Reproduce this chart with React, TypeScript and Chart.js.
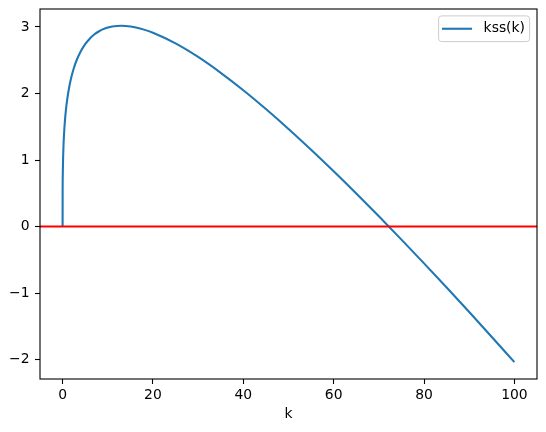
import React, { useEffect, useRef } from "react";
import { Chart, registerables } from "chart.js";

Chart.register(...registerables);

// k grid and kss(k) values
const kValues = [
  0, 0.01, 0.05, 0.1, 0.2, 0.3, 0.5, 0.75, 1, 1.5, 2, 2.5, 3, 4, 5, 6, 7, 8, 9, 10, 12, 13, 14,
  16, 18, 20, 25, 30, 35, 40, 45, 50, 55, 60, 65, 70, 75, 80, 85, 90, 95, 100,
];
const kssValues = [
  0, 0.501, 0.809, 0.992, 1.214, 1.364, 1.575, 1.76, 1.9, 2.109, 2.262, 2.383, 2.481, 2.631,
  2.741, 2.824, 2.886, 2.932, 2.967, 2.991, 3.015, 3.017, 3.014, 2.995, 2.96, 2.913, 2.753,
  2.549, 2.311, 2.049, 1.766, 1.467, 1.155, 0.831, 0.497, 0.154, -0.196, -0.553, -0.916,
  -1.285, -1.659, -2.038,
];
const xTicks = [0, 20, 40, 60, 80, 100];
const yTicks = [-2, -1, 0, 1, 2, 3];
const seriesLabel = "kss(k)";
const xLabel = "k";
const hlineY = 0;

const FONT = "'DejaVu Sans', sans-serif";

export default function App() {
  const ref = useRef<HTMLCanvasElement | null>(null);

  useEffect(() => {
    if (!ref.current) return;
    const overlay = {
      id: "overlay",
      afterDatasetsDraw(chart: any) {
        const { ctx, chartArea: a, scales } = chart;
        ctx.save();
        // horizontal red line
        const yp = scales.y.getPixelForValue(hlineY);
        ctx.strokeStyle = "#ff0000";
        ctx.lineWidth = 2.08;
        ctx.beginPath();
        ctx.moveTo(a.left, yp);
        ctx.lineTo(a.right, yp);
        ctx.stroke();
        // frame
        ctx.strokeStyle = "#000";
        ctx.lineWidth = 1.1;
        ctx.strokeRect(a.left, a.top, a.right - a.left, a.bottom - a.top);
        // legend
        const bw = 91, bh = 25.7;
        const bx = a.right - 7.4 - bw;
        const by = a.top + 6.9;
        const r = 3;
        ctx.beginPath();
        ctx.moveTo(bx + r, by);
        ctx.lineTo(bx + bw - r, by);
        ctx.quadraticCurveTo(bx + bw, by, bx + bw, by + r);
        ctx.lineTo(bx + bw, by + bh - r);
        ctx.quadraticCurveTo(bx + bw, by + bh, bx + bw - r, by + bh);
        ctx.lineTo(bx + r, by + bh);
        ctx.quadraticCurveTo(bx, by + bh, bx, by + bh - r);
        ctx.lineTo(bx, by + r);
        ctx.quadraticCurveTo(bx, by, bx + r, by);
        ctx.closePath();
        ctx.fillStyle = "rgba(255,255,255,0.8)";
        ctx.fill();
        ctx.strokeStyle = "#cccccc";
        ctx.lineWidth = 1;
        ctx.stroke();
        const ly = by + bh / 2;
        ctx.strokeStyle = "#1f77b4";
        ctx.lineWidth = 2.08;
        ctx.beginPath();
        ctx.moveTo(bx + 3.4, ly);
        ctx.lineTo(bx + 33.4, ly);
        ctx.stroke();
        ctx.fillStyle = "#000";
        ctx.font = `13.9px ${FONT}`;
        ctx.textBaseline = "middle";
        ctx.textAlign = "left";
        ctx.fillText(chart.data.datasets[0].label, bx + 45, ly);
        ctx.restore();
      },
    };

    const chart = new Chart(ref.current, {
      type: "line",
      data: {
        datasets: [
          {
            label: seriesLabel,
            data: kValues.map((k, i) => ({ x: k, y: kssValues[i] })),
            borderColor: "#1f77b4",
            borderWidth: 2.08,
            pointRadius: 0,
            cubicInterpolationMode: "monotone",
            borderJoinStyle: "round",
            borderCapStyle: "butt",
            fill: false,
          },
        ],
      },
      options: {
        responsive: false,
        animation: false,
        layout: { padding: { top: 9, right: 9, left: 0, bottom: 0 } },
        plugins: { legend: { display: false }, tooltip: { enabled: false } },
        scales: {
          x: {
            type: "linear",
            min: -5,
            max: 105,
            afterBuildTicks: (s: any) => {
              s.ticks = xTicks.map((v) => ({ value: v }));
            },
            afterFit: (s: any) => {
              s.height = 53;
              s.paddingLeft = 0;
              s.paddingRight = 0;
              s.paddingTop = 0;
              s.paddingBottom = 0;
            },
            grid: {
              drawOnChartArea: false,
              drawTicks: true,
              tickLength: 5,
              tickColor: "#000",
              tickWidth: 1.1,
            },
            border: { display: false },
            ticks: {
              color: "#000",
              padding: 3,
              maxRotation: 0,
              font: { family: FONT, size: 13.9 },
              callback: (v: any) => String(v).replace("-", "\u2212"),
            },
            title: {
              display: true,
              text: xLabel,
              color: "#000",
              font: { family: FONT, size: 13.9 },
              padding: { top: 0, bottom: 9 },
            },
          },
          y: {
            type: "linear",
            min: -2.291,
            max: 3.27,
            afterBuildTicks: (s: any) => {
              s.ticks = yTicks.map((v) => ({ value: v }));
            },
            afterFit: (s: any) => {
              s.width = 40;
              s.paddingLeft = 0;
              s.paddingRight = 0;
              s.paddingTop = 0;
              s.paddingBottom = 0;
            },
            grid: {
              drawOnChartArea: false,
              drawTicks: true,
              tickLength: 5,
              tickColor: "#000",
              tickWidth: 1.1,
            },
            border: { display: false },
            ticks: {
              color: "#000",
              padding: 5.5,
              font: { family: FONT, size: 13.9 },
              callback: (v: any) => String(v).replace("-", "\u2212"),
            },
          },
        },
      },
      plugins: [overlay],
    });
    return () => chart.destroy();
  }, []);

  return (
    <div style={{ position: "absolute", left: 0, top: 0, width: 546, height: 432, background: "#fff" }}>
      <canvas ref={ref} width={546} height={432} style={{ display: "block" }} />
    </div>
  );
}
